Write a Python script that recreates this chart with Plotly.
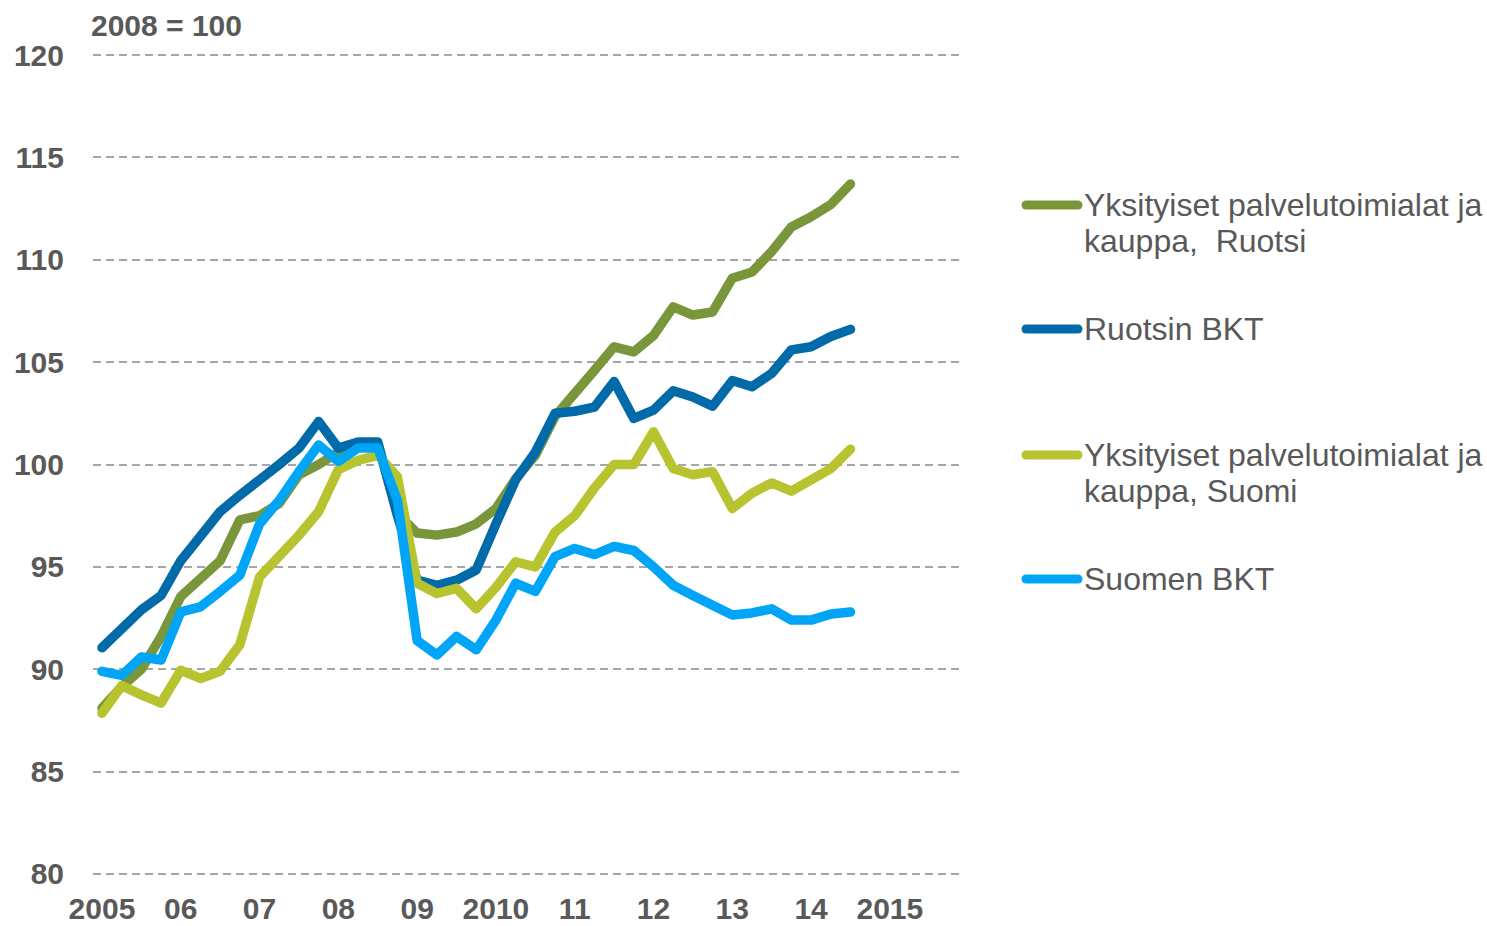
"""
Ruotsin ja Suomen BKT ja yksityiset palvelut, 2008 = 100
"""

import plotly.graph_objects as go

# quarterly observations 2005Q1 .. 2014Q3
quarters = [2005 + q / 4 for q in range(39)]

palvelut_ruotsi = [
    88.1, 89.15, 90.0, 91.6, 93.55, 94.35, 95.3, 97.3, 97.5, 98.1,
    99.5, 100.0, 100.6, 101.0, 101.0, 97.6, 96.65, 96.55, 96.7, 97.1,
    97.85, 99.3, 100.45, 102.35, 103.4, 104.6, 105.75, 105.5, 106.3, 107.7,
    107.3, 107.45, 109.1, 109.4, 110.4, 111.6, 112.1, 112.7, 113.7,
]
bkt_ruotsi = [
    91.05, 91.95, 92.9, 93.6, 95.3, 96.5, 97.7, 98.5, 99.2, 100.0,
    100.8, 102.1, 100.8, 101.1, 101.1, 97.5, 94.35, 94.1, 94.35, 94.85,
    97.1, 99.25, 100.6, 102.5, 102.6, 102.8, 104.05, 102.25, 102.66, 103.6,
    103.3, 102.85, 104.1, 103.8, 104.45, 105.6, 105.75, 106.25, 106.6,
]
palvelut_suomi = [
    87.85, 89.2, 88.75, 88.35, 89.95, 89.55, 89.9, 91.2, 94.5, 95.5,
    96.55, 97.7, 99.75, 100.2, 100.45, 99.4, 94.2, 93.7, 93.95, 92.95,
    94.0, 95.25, 95.0, 96.7, 97.5, 98.85, 100.0, 100.0, 101.6, 99.8,
    99.5, 99.65, 97.85, 98.6, 99.1, 98.7, 99.25, 99.8, 100.75,
]
bkt_suomi = [
    89.9, 89.7, 90.6, 90.45, 92.8, 93.05, 93.8, 94.6, 97.1, 98.25,
    99.65, 100.95, 100.15, 100.8, 100.8, 98.25, 91.4, 90.7, 91.6, 90.95,
    92.4, 94.2, 93.8, 95.5, 95.9, 95.6, 96.0, 95.8, 95.0, 94.1,
    93.6, 93.15, 92.65, 92.75, 92.95, 92.4, 92.4, 92.7, 92.8,
]

series = [palvelut_ruotsi, bkt_ruotsi, palvelut_suomi, bkt_suomi]
names = [
    'Yksityiset palvelutoimialat ja<br>kauppa,  Ruotsi',
    'Ruotsin BKT',
    'Yksityiset palvelutoimialat ja<br>kauppa, Suomi',
    'Suomen BKT',
]
colors = ['#7A963B', '#006BA8', '#B7C42F', '#00A5F8']

year_ticks = list(range(2005, 2016))
year_labels = ['2005', '06', '07', '08', '09', '2010', '11', '12', '13', '14', '2015']
y_ticks = list(range(80, 121, 5))

TEXT = '#595959'
FONT = 'Liberation Sans, Arial, sans-serif'

fig = go.Figure()
for vals, name, col in zip(series, names, colors):
    fig.add_trace(go.Scatter(
        x=quarters, y=vals, name=name, mode='lines',
        line=dict(color=col, width=9.5),
        showlegend=False, hoverinfo='skip',
    ))

# hand made legend on the right (pixel positions -> paper coords)
L, T, W, H = 93, 54, 867, 821
def px_x(p):
    return (p - L) / W
def px_y(p):
    return (T + H - p) / H

legend_rows = [205, 329, 455, 579]
for row, name, col in zip(legend_rows, names, colors):
    fig.add_shape(type='line', xref='paper', yref='paper',
                  x0=px_x(1026), x1=px_x(1078), y0=px_y(row), y1=px_y(row),
                  line=dict(color=col, width=9))
    for k, part in enumerate(name.split('<br>')):
        fig.add_annotation(
            text=part, xref='paper', yref='paper',
            x=px_x(1082), y=px_y(row + 36 * k), xanchor='left', yanchor='middle',
            showarrow=False, font=dict(family=FONT, size=32, color=TEXT),
        )

fig.add_annotation(
    text='2008 = 100', xref='paper', yref='paper',
    x=px_x(89), y=px_y(25), xanchor='left', yanchor='middle',
    showarrow=False, font=dict(family=FONT, size=30, color=TEXT, weight='bold'),
)

fig.update_layout(
    width=1487, height=926, autosize=False,
    margin=dict(l=L, r=1487 - L - W, t=T, b=926 - T - H, pad=0, autoexpand=False),
    paper_bgcolor='white', plot_bgcolor='white',
    font=dict(family=FONT, color=TEXT),
)
fig.update_xaxes(
    range=[2004.886, 2015.89], tickvals=year_ticks, ticktext=year_labels,
    showgrid=False, zeroline=False, showline=False, ticks='', automargin=False,
    tickfont=dict(family=FONT, size=30, color=TEXT, weight='bold'),
    ticklabelstandoff=13,
)
fig.update_yaxes(
    range=[79.95, 120.05], tickvals=y_ticks,
    showgrid=True, gridcolor='#A6A6A6', gridwidth=2, griddash='8px,5px',
    zeroline=False, showline=False, ticks='', automargin=False,
    tickfont=dict(family=FONT, size=30, color=TEXT, weight='bold'),
    ticklabelstandoff=28,
)

round_js = """
document.body.style.margin = '0';
document.body.style.overflow = 'hidden';
var fix = function(){
  document.querySelectorAll('.scatterlayer path.js-line').forEach(function(p){
    p.style.strokeLinejoin = 'round'; p.style.strokeLinecap = 'round';
  });
  document.querySelectorAll('.shapelayer path').forEach(function(p){
    p.style.strokeLinecap = 'round';
  });
};
fix();
var gd = document.getElementsByClassName('plotly-graph-div')[0];
gd.on('plotly_afterplot', fix);
"""

fig.write_html("out.html", post_script=round_js, config={'displayModeBar': False})
